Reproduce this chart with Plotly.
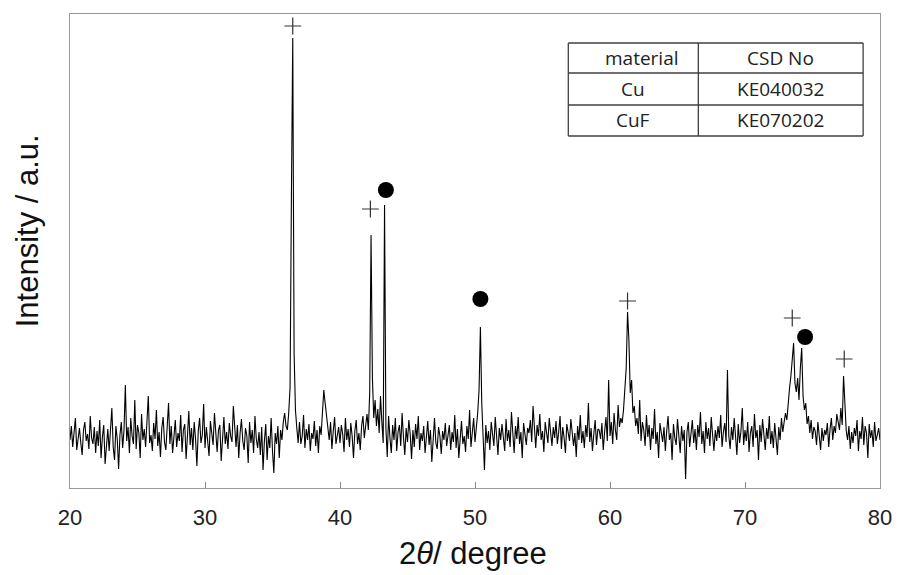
import plotly.graph_objects as go
import numpy as np

# 2theta axis, 0.1 degree step from 20 to 80
two_theta = np.round(np.arange(20.0, 80.05, 0.1), 1)

# intensity (arbitrary units), one row = 2 degrees
intensity = [
    48, 62, 41, 55, 70, 38, 52, 60, 45, 33, 58, 66, 47, 54, 39, 72, 50, 44, 61, 35,   # 20
    57, 42, 68, 30, 51, 63, 24, 46, 59, 37, 55, 80, 41, 28, 62, 49, 19, 53, 66, 40,   # 22
    58, 103, 47, 61, 35, 70, 52, 44, 88, 39, 63, 55, 30, 74, 48, 59, 41, 67, 92, 45,  # 24
    53, 37, 65, 49, 78, 42, 56, 31, 60, 71, 46, 38, 57, 85, 44, 62, 35, 50, 68, 41,   # 26
    55, 47, 73, 36, 58, 64, 29, 52, 77, 43, 60, 38, 66, 49, 22, 57, 70, 45, 53, 84,   # 28
    40, 61, 48, 32, 67, 54, 43, 75, 50, 36, 58, 63, 27, 49, 71, 44, 56, 39, 65, 52,   # 30
    46, 82, 57, 41, 63, 30, 55, 69, 47, 38, 60, 52, 25, 66, 45, 58, 35, 72, 49, 40,   # 32
    56, 33, 61, 18, 47, 64, 28, 52, 40, 70, 37, 15, 55, 44, 62, 30, 58, 48, 66, 75,   # 34
    62, 58, 75, 100, 290, 450, 135, 78, 60, 45, 66, 44, 52, 73, 40, 59, 48, 64, 37, 55,  # 36
    49, 67, 42, 58, 35, 62, 53, 75, 98, 85, 70, 55, 48, 66, 39, 57, 71, 44, 52, 61,  # 38
    45, 63, 54, 36, 70, 48, 59, 41, 65, 52, 30, 57, 68, 44, 55, 38, 62, 72, 50, 66,   # 40
    74, 58, 95, 253, 110, 70, 88, 62, 79, 55, 92, 66, 45, 283, 60, 31, 72, 50, 35, 63,  # 42
    48, 70, 37, 56, 63, 42, 75, 51, 33, 60, 46, 68, 54, 29, 58, 41, 64, 49, 72, 38,   # 44
    55, 47, 62, 35, 50, 67, 43, 58, 26, 53, 70, 45, 39, 61, 52, 34, 57, 48, 65, 42,   # 46
    51, 63, 38, 56, 46, 73, 40, 59, 30, 54, 67, 44, 52, 36, 62, 49, 78, 41, 57, 70,   # 48
    46, 60, 75, 98, 161, 85, 52, 18, 63, 45, 57, 38, 66, 50, 42, 71, 55, 33, 60, 48,  # 50
    64, 53, 37, 69, 47, 58, 41, 76, 52, 35, 62, 49, 71, 44, 56, 30, 65, 51, 43, 60,   # 52
    55, 68, 46, 82, 59, 40, 63, 52, 74, 48, 57, 36, 66, 53, 45, 70, 58, 42, 61, 50,   # 54
    67, 44, 56, 72, 39, 61, 50, 35, 64, 53, 47, 69, 58, 42, 55, 31, 62, 48, 73, 45,   # 56
    57, 40, 63, 51, 85, 46, 60, 37, 54, 68, 43, 59, 58, 49, 65, 38, 56, 71, 47, 108,  # 58
    52, 66, 44, 75, 58, 48, 83, 61, 70, 65, 78, 95, 120, 176, 148, 95, 108, 75, 82, 62,  # 60
    70, 54, 88, 47, 66, 58, 42, 73, 51, 63, 38, 60, 49, 79, 44, 56, 30, 65, 52, 46,   # 62
    61, 37, 57, 72, 48, 55, 28, 64, 50, 43, 69, 53, 35, 62, 47, 58, 9, 56, 66, 41,    # 64
    54, 68, 45, 59, 38, 63, 51, 76, 44, 57, 35, 66, 49, 60, 42, 71, 53, 37, 58, 47,   # 66
    62, 50, 73, 41, 56, 65, 46, 118, 52, 39, 61, 48, 70, 55, 33, 64, 45, 57, 80, 43,  # 68
    58, 47, 66, 36, 55, 62, 41, 74, 50, 58, 28, 63, 46, 69, 54, 38, 60, 49, 72, 44,   # 70
    57, 40, 65, 52, 33, 61, 48, 70, 56, 66, 75, 68, 88, 100, 112, 125, 145, 105, 96, 110,  # 72
    88, 120, 140, 92, 78, 85, 64, 72, 55, 68, 49, 61, 57, 43, 66, 52, 38, 60, 47, 58,  # 74
    53, 65, 41, 59, 70, 48, 62, 55, 74, 66, 58, 80, 63, 112, 75, 57, 48, 62, 39, 56,  # 76
    45, 60, 52, 68, 37, 57, 49, 71, 43, 62, 55, 30, 64, 50, 58, 41, 66, 47, 53, 60,   # 78
    48,
]

# peak markers: + and filled circle
cross_x = [36.5, 42.25, 61.3, 73.5, 77.35]
cross_y = [462, 279, 187, 170, 129]
dot_x = [43.4, 50.4, 74.45]
dot_y = [298, 189, 151]

# phase table
table_header = ["material", "CSD No"]
table_material = ["Cu", "CuF"]
table_csd = ["KE040032", "KE070202"]

# plot area in pixels (904 x 575 page)
L, R, T, B = 70, 886, 14, 488


def px(x, y):
    # pixel position -> paper coords
    return (x - L) / (R - L), (B - y) / (B - T)


fig = go.Figure()

fig.add_trace(go.Scatter(
    x=two_theta, y=intensity,
    mode='lines',
    line=dict(color='black', width=1.1),
    showlegend=False,
))

fig.add_trace(go.Scatter(
    x=cross_x, y=cross_y,
    mode='markers',
    marker=dict(symbol='cross-thin', size=12, line=dict(color='#333333', width=1.2)),
    showlegend=False,
))

fig.add_trace(go.Scatter(
    x=dot_x, y=dot_y,
    mode='markers',
    marker=dict(symbol='circle', size=16, color='black'),
    showlegend=False,
))

# table grid
tbl_l, tbl_m, tbl_r = 572, 703, 869
tbl_rows = [43, 73, 105, 136]
line_style = dict(color='#404040', width=1.3)
for yy in tbl_rows:
    x0, y0 = px(tbl_l, yy)
    x1, _ = px(tbl_r, yy)
    fig.add_shape(type='line', xref='paper', yref='paper', x0=x0, x1=x1, y0=y0, y1=y0, line=line_style)
for xx in [tbl_l, tbl_m, tbl_r]:
    x0, y0 = px(xx, tbl_rows[0])
    _, y1 = px(xx, tbl_rows[-1])
    fig.add_shape(type='line', xref='paper', yref='paper', x0=x0, x1=x0, y0=y0, y1=y1, line=line_style)

cells = [[table_header[0], table_header[1]]] + [[m, c] for m, c in zip(table_material, table_csd)]
col_centres = [637, 786]
for i, row in enumerate(cells):
    yc = (tbl_rows[i] + tbl_rows[i + 1]) / 2
    for j, txt in enumerate(row):
        xc = col_centres[j] + (9 if (i == 0 and j == 0) else 0)
        xp, yp = px(xc, yc)
        fig.add_annotation(x=xp, y=yp, xref='paper', yref='paper', text=txt, showarrow=False,
                           xanchor='center', yanchor='middle',
                           font=dict(family='Open Sans', size=19, color='#222222'))

# axis titles
xp, yp = px(476, 553)
fig.add_annotation(x=xp, y=yp, xref='paper', yref='paper', text='2<i>θ</i>/ degree', showarrow=False,
                   xanchor='center', yanchor='middle',
                   font=dict(family='Liberation Sans', size=31, color='#111111'))
xp, yp = px(28, 231)
fig.add_annotation(x=xp, y=yp, xref='paper', yref='paper', text='Intensity / a.u.', showarrow=False,
                   textangle=-90, xanchor='center', yanchor='middle',
                   font=dict(family='Liberation Sans', size=31, color='#111111'))

fig.update_xaxes(
    range=[20, 80], tickvals=[20, 30, 40, 50, 60, 70, 80],
    ticks='inside', ticklen=6, tickcolor='#888888', tickwidth=1,
    ticklabelstandoff=10,
    showline=True, linecolor='#999999', linewidth=1, mirror=True,
    showgrid=False, zeroline=False,
    tickfont=dict(family='Liberation Sans', size=22, color='#222222'),
)
fig.update_yaxes(
    range=[0, B - T], showticklabels=False, ticks='',
    showline=True, linecolor='#999999', linewidth=1, mirror=True,
    showgrid=False, zeroline=False,
)

# width left to the browser window so the plot fills it edge to edge
fig.update_layout(
    height=575,
    margin=dict(l=L, r=904 - R, t=T, b=575 - B),
    plot_bgcolor='white', paper_bgcolor='white',
)

# drop the default page margin / scrollbars so the figure sits at the window corner
fig.write_html(
    "out.html",
    config={'displayModeBar': False, 'responsive': True},
    post_script="document.body.style.margin='0px';document.body.style.overflow='hidden';"
                "Plotly.Plots.resize(document.getElementById('{plot_id}'));",
)
